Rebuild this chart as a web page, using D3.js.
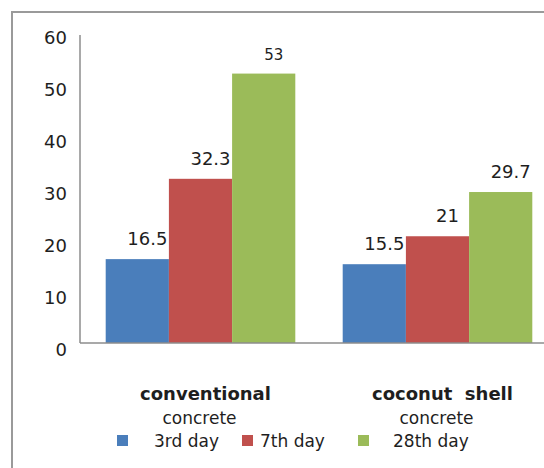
<!DOCTYPE html>
<html>
<head>
<meta charset="utf-8">
<script src="https://cdn.jsdelivr.net/npm/d3@7"></script>
<style>
  html, body { margin: 0; padding: 0; background: #fff; }
  svg { display: block; }
  text { font-family: "DejaVu Sans", sans-serif; fill: #1e1e1e; }
</style>
</head>
<body>
<svg id="chart" width="544" height="468"></svg>
<script>
// ---- data ----
const categories = ["conventional concrete", "coconut shell concrete"];
const categoryLine1 = ["conventional", "coconut  shell"];
const categoryLine2 = ["concrete", "concrete"];
const seriesNames = ["3rd day", "7th day", "28th day"];
const day3 = [16.5, 15.5];
const day7 = [32.3, 21];
const day28 = [53, 29.7];
const valueLabels = [["16.5", "15.5"], ["32.3", "21"], ["53", "29.7"]];
const yTicks = [0, 10, 20, 30, 40, 50, 60];
const colors = ["#4a7ebb", "#c0504d", "#9bbb59"];

const seriesValues = [day3, day7, day28];

const svg = d3.select("#chart");
const W = 544, H = 468;

// outer frame (left and top edges visible, chart is cropped on the right/bottom)
svg.append("path")
  .attr("d", `M12,${H + 5} L12,12 L${W + 5},12`)
  .attr("fill", "none").attr("stroke", "#9a9a9a").attr("stroke-width", 2);

const plotLeft = 80, plotTop = 35, plotBottom = 343;

const y = d3.scaleLinear().domain([0, 60]).range([plotBottom, 38]);
const yLabel = d3.scaleLinear().domain([0, 60]).range([350, 38]);

const x0 = d3.scaleBand().domain(categories).range([82, 556])
  .paddingInner(0.2).paddingOuter(0.1);
const x1 = d3.scaleBand().domain(seriesNames).range([0, x0.bandwidth()]).padding(0);

// y-axis labels
const yAxis = d3.axisLeft(yLabel).tickValues(yTicks).tickSize(0).tickPadding(0);
const gy = svg.append("g").attr("transform", "translate(67,0)").call(yAxis);
gy.select(".domain").remove();
gy.selectAll("text")
  .style("font-family", "DejaVu Sans, sans-serif")
  .style("font-size", "18px")
  .attr("fill", "#1e1e1e");

// bars
const barData = [];
categories.forEach((c, ci) => {
  seriesNames.forEach((s, si) => {
    barData.push({ c, s, si, v: seriesValues[si][ci], label: valueLabels[si][ci] });
  });
});

svg.append("g").selectAll("rect").data(barData).join("rect")
  .attr("x", d => x0(d.c) + x1(d.s))
  .attr("y", d => y(d.v))
  .attr("width", x1.bandwidth())
  .attr("height", d => y(0) - y(d.v))
  .attr("fill", d => colors[d.si]);

// axis lines
svg.append("line")
  .attr("x1", plotLeft).attr("x2", plotLeft)
  .attr("y1", plotTop).attr("y2", plotBottom)
  .attr("stroke", "#8c8c8c").attr("stroke-width", 1.5);
svg.append("line")
  .attr("x1", plotLeft).attr("x2", W)
  .attr("y1", plotBottom).attr("y2", plotBottom)
  .attr("stroke", "#8c8c8c").attr("stroke-width", 1.5);

// value labels
svg.append("g").selectAll("text").data(barData).join("text")
  .attr("x", d => x0(d.c) + x1(d.s) + x1.bandwidth() / 2 + 10)
  .attr("y", d => y(d.v) - 14)
  .attr("text-anchor", "middle")
  .style("font-size", d => d.label === "53" ? "15px" : "18px")
  .text(d => d.label);

// category labels
const gc = svg.append("g");
categories.forEach((c, i) => {
  const cx = x0(c) + x0.bandwidth() / 2;
  gc.append("text")
    .attr("x", cx + 5).attr("y", 400)
    .attr("text-anchor", "middle")
    .attr("xml:space", "preserve")
    .style("white-space", "pre")
    .style("font-size", "18px").style("font-weight", "bold")
    .text(categoryLine1[i]);
  gc.append("text")
    .attr("x", cx - 1).attr("y", 424)
    .attr("text-anchor", "middle")
    .style("font-size", "17px")
    .text(categoryLine2[i]);
});

// legend
const legendX = [117, 242, 358];
const legendTextX = [154, 260, 393];
const lg = svg.append("g");
seriesNames.forEach((s, i) => {
  lg.append("rect")
    .attr("x", legendX[i]).attr("y", 435)
    .attr("width", 11).attr("height", 11)
    .attr("fill", colors[i]);
  lg.append("text")
    .attr("x", legendTextX[i]).attr("y", 447)
    .style("font-size", "17px")
    .text(s);
});
</script>
</body>
</html>
